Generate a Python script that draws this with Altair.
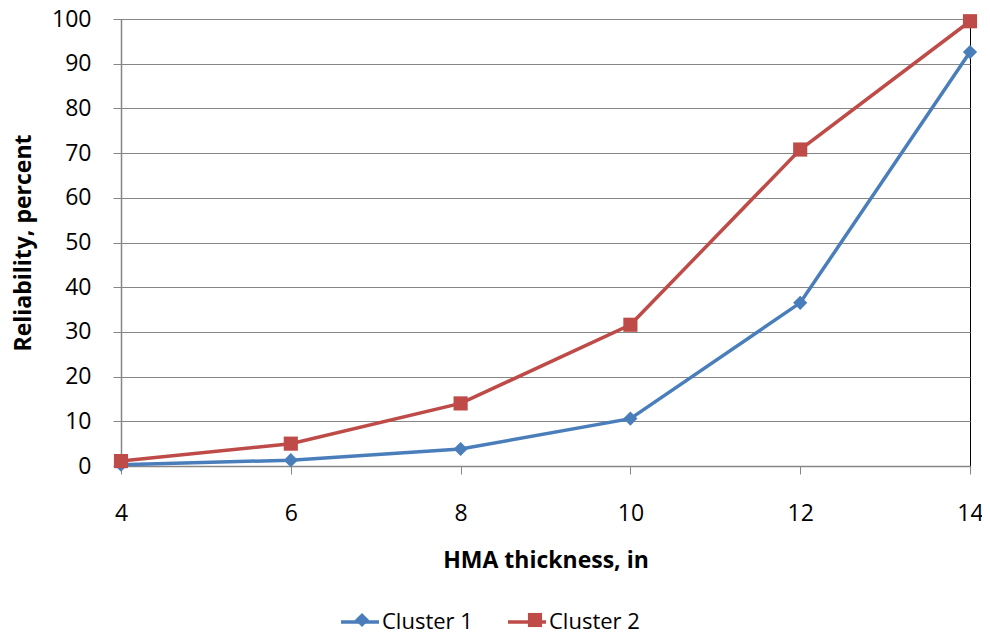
import altair as alt
import pandas as pd

thickness = [4, 6, 8, 10, 12, 14]
cluster1 = [0.3, 1.3, 3.8, 10.6, 36.5, 92.6]
cluster2 = [1.1, 5.0, 14.0, 31.6, 70.8, 99.5]
series = ["Cluster 1", "Cluster 2"]
colors = ["#4A7EBB", "#BE4B48"]

rows = []
for name, vals in zip(series, [cluster1, cluster2]):
    for t, v in zip(thickness, vals):
        rows.append({"thickness": t, "reliability": v, "series": name})
df = pd.DataFrame(rows)

FONT = "Open Sans"
LX = 218
LY = 582
LFS = 22

x = alt.X("thickness:Q", title="HMA thickness,  in",
          scale=alt.Scale(domain=[4, 14], nice=False, zero=False),
          axis=alt.Axis(values=thickness, grid=False, tickSize=8, labelPadding=28,
                        labelFlush=False, titlePadding=24))
y = alt.Y("reliability:Q", title="Reliability, percent",
          scale=alt.Scale(domain=[0, 100], nice=False),
          axis=alt.Axis(values=list(range(0, 101, 10)), grid=True, tickSize=8,
                        labelPadding=22, titlePadding=16, labelFlush=False))

pt_legend = alt.Legend(
    title=None, orient="none", direction="horizontal",
    legendX=LX + 12, legendY=LY + 8,
    labelFontSize=LFS, labelFont=FONT, labelExpr="''",
    symbolSize=200, symbolOpacity=1, labelOffset=1,
    columnPadding=150)

line = alt.Chart(df).mark_line(strokeWidth=3.5).encode(
    x=x, y=y,
    color=alt.Color("series:N", scale=alt.Scale(domain=series, range=colors),
                    legend=alt.Legend(
                        title=None, orient="none", direction="horizontal",
                        legendX=LX, legendY=LY, symbolType="stroke",
                        labelFontSize=LFS, labelFont=FONT, labelColor="#000000",
                        symbolSize=1444, symbolStrokeWidth=3.5, labelOffset=1,
                        columnPadding=28)),
)
pts = alt.Chart(df).mark_point(filled=True, opacity=1, size=200).encode(
    x=x, y=y,
    color=alt.Color("series:N", scale=alt.Scale(domain=series, range=colors),
                    legend=pt_legend),
    shape=alt.Shape("series:N", scale=alt.Scale(domain=series, range=["diamond", "square"]),
                    legend=pt_legend),
)

chart = (line + pts).resolve_scale(color="independent", shape="independent").resolve_legend(
    color="independent", shape="independent"
).properties(
    width=849, height=447,
    autosize=alt.AutoSizeParams(type="none"),
    padding={"left": 113, "top": 11, "right": 12, "bottom": 168},
).configure_view(
    stroke="#000000", strokeWidth=1
).configure_axis(
    labelFont=FONT, titleFont=FONT, labelFontSize=23, titleFontSize=23,
    labelColor="#000000", titleColor="#000000", titleFontWeight="bold",
    domainColor="#868686", tickColor="#868686", gridColor="#868686",
    domainWidth=1.5, tickWidth=1, gridWidth=1,
)

chart.save("out.html", embed_options={"renderer": "svg", "actions": False})
